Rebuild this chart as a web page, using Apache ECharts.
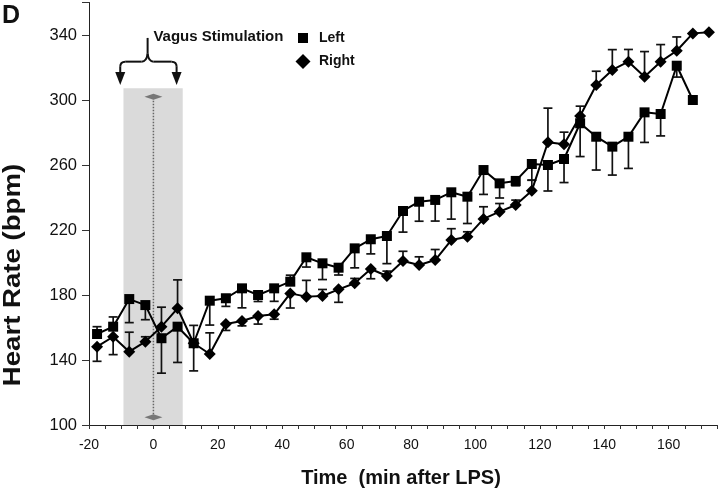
<!DOCTYPE html>
<html><head><meta charset="utf-8">
<script src="https://cdn.jsdelivr.net/npm/echarts/dist/echarts.min.js"></script>
<style>html,body{margin:0;padding:0;background:#fff}#c{width:720px;height:495px}</style>
</head><body><div id="c"></div>
<script>
// ---- data (minutes after LPS, heart rate bpm) ----
const times = [-17.5,-12.5,-7.5,-2.5,2.5,7.5,12.5,17.5,22.5,27.5,32.5,37.5,42.5,47.5,52.5,57.5,62.5,67.5,72.5,77.5,82.5,87.5,92.5,97.5,102.5,107.5,112.5,117.5,122.5,127.5,132.5,137.5,142.5,147.5,152.5,157.5,162.5,167.5,172.5];
const leftHR = [156,160.5,177.5,173.8,153.4,160.5,150.3,176.5,178,184.1,180,184.1,188.2,203.2,199.5,196.8,208.7,214.3,216.3,231.7,237.4,238.5,243.2,240.5,256.9,248.7,250.2,260.6,260,263.7,285.7,277.4,271.3,277.4,292.4,291.4,321.1,300];
const leftErr = [4.5,6,-14.5,-9,-21.5,-22,-17,-15,-5,-12,-4,-8,4,-6,-10,-4.5,-12,-9,-17,-13,-12,-13,-16.5,-16.5,-15,-9,-3,-10,-16,-14.5,-20.5,-20.5,-17.5,-19.5,-18.5,-13.5,-7,0];
const rightHR = [148.2,154.3,145.1,151.3,160.5,171.8,150.3,143.7,162.2,164,167.1,168.1,181,179,179.4,183.5,187.2,196,191.7,200.9,198.5,201.5,213.8,215.9,226.8,231.3,235.4,244.2,274,272.7,290.2,309.2,318.5,323.6,314.3,323.6,330.3,341,341.7];
const rightErr = [-9,-11,12,3,12,17.5,11,13,-4,-3,-5,-3,-9,10,4,-8,3,-6,3,6,5,6.5,7,3,7.5,5,3,6.5,21,7.5,6,8.5,12.5,7.5,15.5,10.5,8.5,0,0];
const seriesNames = ['Left','Right'];
const xTickLabels = [-20,0,20,40,60,80,100,120,140,160];
const yTickLabels = [100,140,180,220,260,300,340];
// annotation (data coordinates)
const stimWindow = [-9.3, 9.1];
const stimTop = 307.2;
const lpsMarker = [[0,104.7],[0,302]];

const FONT = 'Liberation Sans, Arial, sans-serif';
const chart = echarts.init(document.getElementById('c'), null, {renderer:'canvas'});

function errSeries(name, hr, err){
  const data = hr.map((v,i)=>[times[i], v, v+err[i]]).filter(d=>d[1]!==d[2]);
  return {
    type:'custom', name:name+' SEM', silent:true, z:2, clip:false,
    encode:{x:0, y:[1,2]},
    renderItem(params, api){
      const t=api.value(0), v=api.value(1), e=api.value(2);
      const p0=api.coord([t,v]), p1=api.coord([t,e]);
      const hw=4.5, st={stroke:'#111', lineWidth:1.7};
      return {type:'group', children:[
        {type:'line', shape:{x1:p0[0],y1:p0[1],x2:p1[0],y2:p1[1]}, style:st},
        {type:'line', shape:{x1:p1[0]-hw,y1:p1[1],x2:p1[0]+hw,y2:p1[1]}, style:st}
      ]};
    },
    data
  };
}

chart.setOption({
  animation:false,
  backgroundColor:'#fff',
  grid:{left:89, right:1, top:2.5, bottom:70, containLabel:false},
  legend:[
    {data:[{name:seriesNames[0], icon:'rect'}], left:298, top:31, itemWidth:10, itemHeight:10, padding:0,
     textStyle:{fontFamily:FONT, fontSize:14, fontWeight:'bold', color:'#111', padding:[0,0,0,6]}, selectedMode:false},
    {data:[{name:seriesNames[1], icon:'diamond'}], left:295.5, top:54, itemWidth:15, itemHeight:15, padding:0,
     textStyle:{fontFamily:FONT, fontSize:14, fontWeight:'bold', color:'#111', padding:[0,0,0,3.5]}, selectedMode:false}
  ],
  xAxis:{type:'value', min:-20, max:175, interval:5,
    axisLine:{onZero:false, lineStyle:{color:'#222', width:1}},
    axisTick:{length:4, lineStyle:{color:'#333', width:1}},
    splitLine:{show:false},
    axisLabel:{formatter:v=>xTickLabels.includes(v)?String(v):'', fontFamily:FONT, fontSize:14, color:'#111', margin:13}
  },
  yAxis:{type:'value', min:100, max:360, interval:40,
    axisLine:{show:true, onZero:false, lineStyle:{color:'#222', width:1}},
    axisTick:{show:true, length:7, lineStyle:{color:'#333', width:1}},
    splitLine:{show:false},
    axisLabel:{formatter:v=>yTickLabels.includes(v)?String(v):'', fontFamily:FONT, fontSize:16.5, color:'#111', margin:12}
  },
  series:[
    {type:'line', name:'LPS', data:lpsMarker, symbol:'diamond', symbolSize:[18,6], z:2, silent:true,
     itemStyle:{color:'#777'}, lineStyle:{type:'dotted', color:'#666', width:1.5},
     markArea:{silent:true, itemStyle:{color:'#dadada'},
       data:[[{xAxis:stimWindow[0], yAxis:100},{xAxis:stimWindow[1], yAxis:stimTop}]]}},
    errSeries('Left', leftHR, leftErr),
    errSeries('Right', rightHR, rightErr),
    {type:'line', name:seriesNames[0], data:leftHR.map((v,i)=>[times[i],v]), symbol:'rect', symbolSize:10, z:3,
     itemStyle:{color:'#000'}, lineStyle:{color:'#000', width:2}},
    {type:'line', name:seriesNames[1], data:rightHR.map((v,i)=>[times[i],v]), symbol:'diamond', symbolSize:12, z:3,
     itemStyle:{color:'#000'}, lineStyle:{color:'#000', width:2}}
  ]
});

// annotations positioned through the axes
const P = (t,v)=>chart.convertToPixel({gridIndex:0},[t,v]);
const aL = P(-10.3, 309.2), aR = P(7.2, 309.2), hC = P(-1.8, 323.6), tipP = P(-1.8, 338.2);
const yH = hC[1], xC = hC[0], xL = aL[0], xR = aR[0], yTip = aL[1], yTop = tipP[1];
const bs = {stroke:'#111', lineWidth:2, fill:null};
const ln = (x1,y1,x2,y2)=>({type:'line', shape:{x1,y1,x2,y2}, style:bs});
const bz = (x1,y1,cpx1,cpy1,x2,y2)=>({type:'bezierCurve', shape:{x1,y1,x2,y2,cpx1,cpy1}, style:bs});
const braceParts = [
  ln(xL, yTip-12, xL, yH+5), bz(xL, yH+5, xL, yH, xL+5, yH), ln(xL+5, yH, xC-6, yH),
  bz(xC-6, yH, xC-1, yH, xC, yH-8), ln(xC, yH-8, xC, yTop), bz(xC, yH-8, xC+1, yH, xC+6, yH),
  ln(xC+6, yH, xR-5, yH), bz(xR-5, yH, xR, yH, xR, yH+5), ln(xR, yH+5, xR, yTip-12)
];
const vs = P(0, 339), lps = P(-2.8, 119.4);
chart.setOption({graphic:[
  {id:'D', type:'text', left:2, top:4, style:{text:'D', font:`bold 25px ${FONT}`, fill:'#111'}},
  {id:'ytitle', type:'text', x:14, y:275, rotation:Math.PI/2, scaleX:1.2,
   style:{text:'Heart Rate (bpm)', font:`bold 23px ${FONT}`, fill:'#111', align:'center', verticalAlign:'middle'}},
  {id:'xtitle', type:'text', x:401, y:478,
   style:{text:'Time  (min after LPS)', font:`bold 20px ${FONT}`, fill:'#111', align:'center', verticalAlign:'middle'}},
  {id:'brace', type:'group', children:braceParts},
  {id:'arrL', type:'polygon', shape:{points:[[xL-5,yTip-13],[xL+5,yTip-13],[xL,yTip]]}, style:{fill:'#111'}},
  {id:'arrR', type:'polygon', shape:{points:[[xR-5,yTip-13],[xR+5,yTip-13],[xR,yTip]]}, style:{fill:'#111'}},
  {id:'vagus', type:'text', x:vs[0], y:vs[1], style:{text:'Vagus Stimulation', font:`bold 15px ${FONT}`, fill:'#111', align:'left', verticalAlign:'middle'}},
  {id:'lps', type:'text', x:lps[0], y:lps[1], rotation:Math.PI/2,
   style:{text:'LPS', font:`bold 14px ${FONT}`, fill:'#222', align:'center', verticalAlign:'middle'}}
]});
</script></body></html>
